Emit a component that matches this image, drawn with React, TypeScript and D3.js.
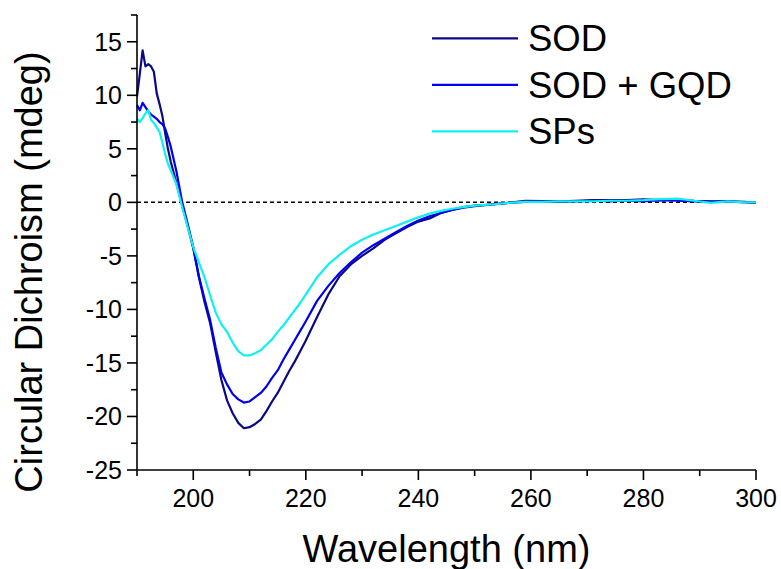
import React from "react";
import * as d3 from "d3";

const wavelengths = [
  190, 190.5, 191, 191.5, 192, 192.5, 193, 193.5, 194, 194.5, 195, 195.5, 196,
  197, 198, 199, 200, 201, 202, 203, 204, 205, 206, 207, 208, 209, 210, 211, 212,
  213, 214, 215, 216, 217, 218, 219, 220, 222, 224, 226, 228, 230, 232, 234, 236,
  238, 240, 242, 244, 246, 248, 250, 253, 256, 259, 262, 265, 268, 271, 274, 277,
  280, 283, 286, 289, 292, 295, 298, 300,
];

const sod = [
  9.9, 12.0, 14.2, 12.7, 12.9, 12.7, 12.2, 10.2, 9.2, 8.1, 6.5, 5.0, 3.8,
  1.8, -0.2, -2.2, -4.3, -7.0, -9.3, -11.3, -14.0, -16.6, -18.5, -19.7, -20.6, -21.1, -21.0, -20.7, -20.3,
  -19.5, -18.6, -17.8, -16.8, -15.8, -14.9, -13.9, -12.9, -10.7, -8.6, -6.9, -5.8, -5.0, -4.3, -3.5, -2.9,
  -2.3, -1.8, -1.5, -1.0, -0.7, -0.5, -0.35, -0.2, -0.05, 0.15, 0.12, 0.1, 0.15, 0.2, 0.2, 0.2,
  0.28, 0.2, 0.25, 0.15, 0.1, 0.1, 0.05, -0.05,
];

const sodGqd = [
  9.1, 8.6, 9.3, 8.9, 8.5, 8.2, 8.0, 7.8, 7.5, 7.3, 6.9, 6.1, 5.2,
  2.9, 0.1, -2.0, -4.2, -6.9, -9.0, -11.0, -13.6, -15.9, -17.0, -17.9, -18.4, -18.7, -18.6, -18.2, -17.8,
  -17.2, -16.4, -15.7, -14.7, -13.8, -12.9, -12.0, -11.1, -9.2, -7.8, -6.6, -5.6, -4.7, -4.0, -3.4, -2.8,
  -2.2, -1.7, -1.3, -1.0, -0.7, -0.45, -0.3, -0.2, -0.05, 0.05, 0.1, 0.05, 0.1, 0.15, 0.1, 0.15,
  0.1, 0.2, 0.15, 0.1, 0.05, 0.1, 0.0, -0.05,
];

const sps = [
  7.8, 7.5, 7.9, 8.3, 8.6, 7.7, 7.4, 7.0, 6.6, 5.6, 4.5, 3.6, 3.0,
  1.7, -0.4, -2.3, -4.2, -5.6, -7.0, -8.7, -10.3, -11.4, -12.1, -13.1, -13.9, -14.3, -14.3, -14.1, -13.8,
  -13.3, -12.8, -12.1, -11.5, -10.8, -10.1, -9.4, -8.6, -7.0, -5.8, -4.9, -4.1, -3.5, -3.0, -2.6, -2.2,
  -1.8, -1.4, -1.05, -0.8, -0.6, -0.45, -0.3, -0.2, -0.05, 0.05, 0.05, 0.1, 0.1, 0.1, 0.15, 0.15,
  0.2, 0.3, 0.35, 0.15, -0.05, 0.1, 0.0, 0.0,
];

const seriesNames = ["SOD", "SOD + GQD", "SPs"];
const seriesColors = ["#0a0a84", "#0000f0", "#10f0f0"];
const seriesValues = [sod, sodGqd, sps];

const xMajorTicks = [200, 220, 240, 260, 280, 300];
const xMinorTicks = [190, 210, 230, 250, 270, 290];
const yMajorTicks = [-25, -20, -15, -10, -5, 0, 5, 10, 15];
const yMinorTicks = [-22.5, -17.5, -12.5, -7.5, -2.5, 2.5, 7.5, 12.5, 17.5];

const W = 781;
const H = 569;
const left = 137;
const right = 756;
const top = 15;
const bottom = 470;
const font = "'Liberation Sans', Arial, sans-serif";

export default function App() {
  const x = d3.scaleLinear().domain([190, 300]).range([left, right]);
  const y = d3.scaleLinear().domain([-25, 17.5]).range([bottom, top]);
  const line = d3
    .line<number>()
    .x((_, i) => x(wavelengths[i]))
    .y((d) => y(d));

  return (
    <svg
      width={W}
      height={H}
      style={{ position: "absolute", left: 0, top: 0, background: "#fff" }}
      fontFamily={font}
    >
      <line
        x1={x(190)}
        x2={x(300)}
        y1={y(0)}
        y2={y(0)}
        stroke="#000"
        strokeWidth={1.5}
        strokeDasharray="4,3"
      />
      {seriesValues.map((vals, i) => (
        <path
          key={seriesNames[i]}
          d={line(vals) || ""}
          fill="none"
          stroke={seriesColors[i]}
          strokeWidth={2.2}
          strokeLinejoin="round"
        />
      ))}
      <line x1={left} x2={right} y1={bottom} y2={bottom} stroke="#000" strokeWidth={1.6} />
      <line x1={left} x2={left} y1={top} y2={bottom} stroke="#000" strokeWidth={1.6} />
      {xMajorTicks.map((t) => (
        <g key={"xm" + t}>
          <line x1={x(t)} x2={x(t)} y1={bottom} y2={bottom + 10} stroke="#000" strokeWidth={1.6} />
          <text x={x(t)} y={507} fontSize={25} textAnchor="middle" fill="#000">
            {t}
          </text>
        </g>
      ))}
      {xMinorTicks.map((t) => (
        <line key={"xn" + t} x1={x(t)} x2={x(t)} y1={bottom} y2={bottom + 6} stroke="#000" strokeWidth={1.6} />
      ))}
      {yMajorTicks.map((t) => (
        <g key={"ym" + t}>
          <line x1={left - 10} x2={left} y1={y(t)} y2={y(t)} stroke="#000" strokeWidth={1.6} />
          <text x={left - 15} y={y(t)} dy="0.35em" fontSize={25} textAnchor="end" fill="#000">
            {t}
          </text>
        </g>
      ))}
      {yMinorTicks.map((t) => (
        <line key={"yn" + t} x1={left - 6} x2={left} y1={y(t)} y2={y(t)} stroke="#000" strokeWidth={1.6} />
      ))}
      <text x={(left + right) / 2} y={562} fontSize={38} textAnchor="middle" fill="#000">
        Wavelength (nm)
      </text>
      <text
        transform={`translate(42, 272) rotate(-90)`}
        fontSize={38}
        textAnchor="middle"
        fill="#000"
      >
        Circular Dichroism (mdeg)
      </text>
      {seriesNames.map((name, i) => (
        <g key={"lg" + name}>
          <line
            x1={432}
            x2={518}
            y1={38.3 + i * 46.5}
            y2={38.3 + i * 46.5}
            stroke={seriesColors[i]}
            strokeWidth={2.2}
          />
          <text x={528} y={51} fontSize={36.5} fill="#000" dy={i * 46.5}>
            {name}
          </text>
        </g>
      ))}
    </svg>
  );
}
